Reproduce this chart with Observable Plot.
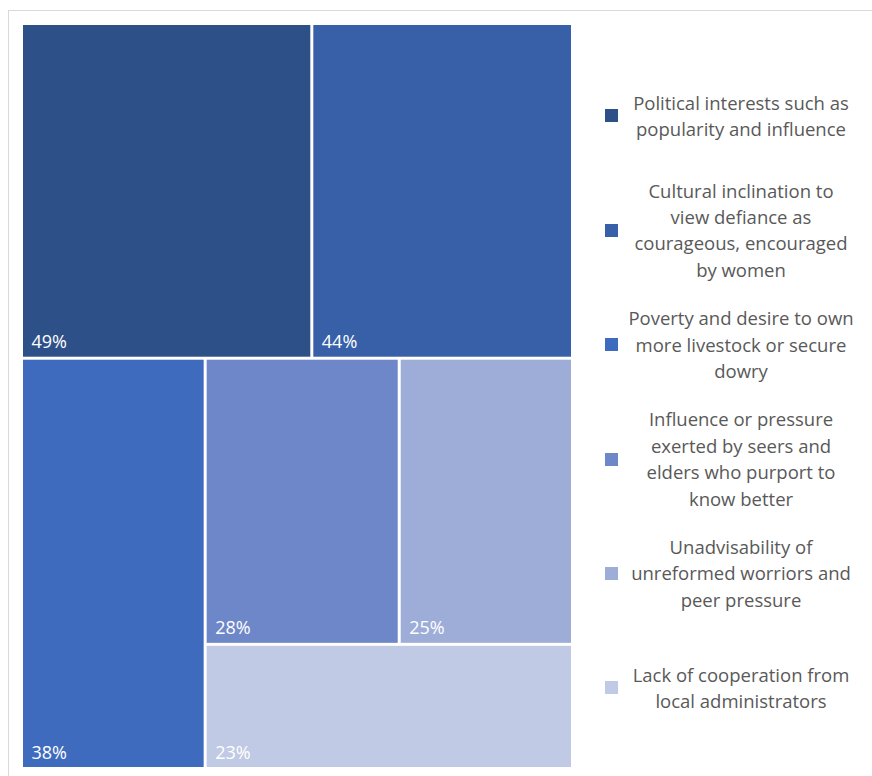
<!DOCTYPE html>
<html>
<head>
<meta charset="utf-8">
<script src="https://cdn.jsdelivr.net/npm/d3@7"></script>
<script src="https://cdn.jsdelivr.net/npm/@observablehq/plot@0.6"></script>
<style>
  html, body { margin: 0; padding: 0; background: #fff; overflow: hidden; }
  #wrap { position: relative; width: 872px; height: 776px; overflow: hidden; font-family: "Open Sans", sans-serif; }
  #frame { position: absolute; left: 8px; top: 10px; width: 900px; height: 800px; border-top: 1px solid #d9d9d9; border-left: 1px solid #d9d9d9; box-sizing: border-box; }
  #chart { position: absolute; left: 0; top: 0; }
  #legend { position: absolute; left: 605px; top: 58.8px; width: 259px; }
  .item { height: 114.4px; display: flex; align-items: center; }
  .sw { width: 13px; height: 13px; flex: none; }
  .lab { flex: 1; text-align: center; color: #595959; font-size: 18.5px; line-height: 26.4px; white-space: pre-line; }
</style>
</head>
<body>
<div id="wrap">
  <div id="frame"></div>
  <div id="chart"></div>
  <div id="legend"></div>
</div>
<script>
// Data
const categories = [
  "Political interests such as popularity and influence",
  "Cultural inclination to view defiance as courageous, encouraged by women",
  "Poverty and desire to own more livestock or secure dowry",
  "Influence or pressure exerted by seers and elders who purport to know better",
  "Unadvisability of unreformed worriors and peer pressure",
  "Lack of cooperation from local administrators"
];
const values = [49, 44, 38, 28, 25, 23];
const labels = ["49%", "44%", "38%", "28%", "25%", "23%"];
const legendLines = [
  ["Political interests such as", "popularity and influence"],
  ["Cultural inclination to", "view defiance as", "courageous, encouraged", "by women"],
  ["Poverty and desire to own", "more livestock or secure", "dowry"],
  ["Influence or pressure", "exerted by seers and", "elders who purport to", "know better"],
  ["Unadvisability of", "unreformed worriors and", "peer pressure"],
  ["Lack of cooperation from", "local administrators"]
];
// how many tiles go in each successive row of the squarified layout
const rowSizes = [2, 1, 2, 1];
const colors = ["#2E5089", "#3760A9", "#3F6BBE", "#6E87C9", "#9DADD8", "#C0CAE4"];

// Layout: squarified rows, each laid along the shorter side of the remaining space
function rowTile(parent, x0, y0, x1, y1) {
  const nodes = parent.children;
  let i = 0;
  for (const n of rowSizes) {
    const row = nodes.slice(i, i + n);
    const remaining = d3.sum(nodes.slice(i), d => d.value);
    i += n;
    const rowSum = d3.sum(row, d => d.value);
    const r = { children: row, value: rowSum };
    if (x1 - x0 < y1 - y0) {
      const h = (y1 - y0) * rowSum / remaining;
      d3.treemapDice(r, x0, y0, x1, y0 + h);
      y0 += h;
    } else {
      const w = (x1 - x0) * rowSum / remaining;
      d3.treemapSlice(r, x0, y0, x0 + w, y1);
      x0 += w;
    }
  }
}

const W = 548, H = 742;
const rootData = { children: categories.map((c, i) => ({ name: c, value: values[i], label: labels[i] })) };
const root = d3.hierarchy(rootData).sum(d => d.value || 0);
d3.treemap().tile(rowTile).size([W, H]).paddingInner(3).round(false)(root);
const tiles = root.leaves().map(l => ({ name: l.data.name, label: l.data.label, x0: l.x0, x1: l.x1, y0: l.y0, y1: l.y1 }));

const plot = Plot.plot({
  width: 580,
  height: 776,
  marginLeft: 23,
  marginRight: 9,
  marginTop: 25,
  marginBottom: 9,
  x: { domain: [0, W], axis: null },
  y: { domain: [0, H], axis: null, reverse: true },
  color: { type: "ordinal", domain: categories, range: colors },
  style: { fontFamily: "Open Sans, sans-serif" },
  marks: [
    Plot.rect(tiles, { x1: "x0", x2: "x1", y1: "y0", y2: "y1", fill: "name" }),
    Plot.text(tiles, { x: "x0", y: "y1", text: "label", textAnchor: "start", lineAnchor: "bottom", dx: 8, dy: -9, fill: "white", fontSize: 18 })
  ]
});
document.getElementById("chart").appendChild(plot);

const legend = document.getElementById("legend");
categories.forEach((c, i) => {
  const item = document.createElement("div");
  item.className = "item";
  const sw = document.createElement("div");
  sw.className = "sw";
  sw.style.background = colors[i];
  const lab = document.createElement("div");
  lab.className = "lab";
  lab.textContent = legendLines[i].join("\n");
  item.appendChild(sw);
  item.appendChild(lab);
  legend.appendChild(item);
});
</script>
</body>
</html>
